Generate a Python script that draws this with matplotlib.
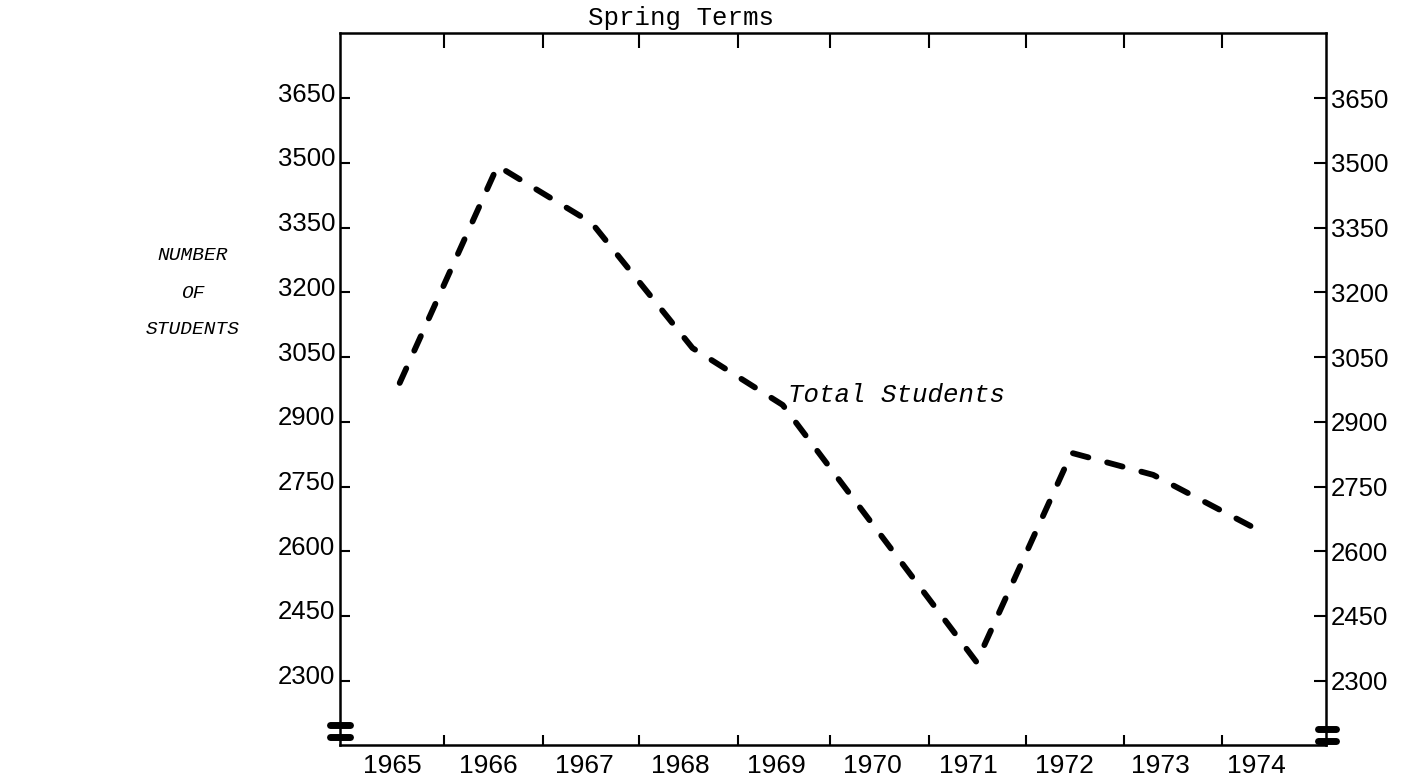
import matplotlib.pyplot as plt
from matplotlib.transforms import ScaledTranslation

# spring term enrolment
# (points sit slightly right of the year labels in the original)
years = [1965.08, 1966.10, 1967.08, 1968.13, 1969.07, 1971.09, 1972.08, 1972.93, 1974.12]
students = [2990, 3493, 3361, 3071, 2939, 2343, 2828, 2777, 2638]

year_labels = list(range(1965, 1975))
# tick marks between the year labels
year_marks = [1965.54, 1966.57, 1967.57, 1968.60, 1969.56,
              1970.59, 1971.60, 1972.63, 1973.65]
student_ticks = [2300, 2450, 2600, 2750, 2900, 3050, 3200, 3350, 3500, 3650]

plt.rcParams['lines.scale_dashes'] = False

fig = plt.figure(figsize=(14.13, 7.81), dpi=100)
ax = fig.add_axes([340 / 1413, 1 - 745 / 781, 986 / 1413, 712 / 781])

ax.plot(years, students, color='black', linewidth=4.2,
        linestyle=(0, (11.5, 14)), dash_capstyle='round')

ax.set_xlim(1964.458, 1974.73)
ax.set_ylim(2151, 3801)

for side in ax.spines.values():
    side.set_linewidth(1.8)

# x axis: marks between years, labels on the years
ax.set_xticks(year_marks)
ax.set_xticklabels([])
ax.set_xticks(year_labels, minor=True)
ax.set_xticklabels([str(y) for y in year_labels], minor=True,
                   fontsize=19, family='Liberation Sans')
ax.tick_params(axis='x', which='major', direction='in', length=7.5, width=1.5,
               top=True, bottom=True)
ax.tick_params(axis='x', which='minor', length=0, pad=6.5)

# y axis on both sides
ax.set_yticks(student_ticks)
ax.set_yticklabels([str(v) for v in student_ticks], fontsize=18.5,
                   family='Liberation Sans')
ax.tick_params(axis='y', direction='in', length=7.5, width=1.5, pad=3.5,
               left=True, right=True, labelleft=True, labelright=True)
shift = ScaledTranslation(0, 6 / 100, fig.dpi_scale_trans)
for t in ax.yaxis.get_major_ticks():
    t.label1.set_transform(t.label1.get_transform() + shift)
    t.tick2line.set_markersize(8.8)
# top marks are a bit longer than the bottom ones
for t in ax.xaxis.get_major_ticks():
    t.tick2line.set_markersize(10.8)

# axis break marks at the bottom corners
for x0, x1, ys in [(-0.010, 0.010, (0.028, 0.011)),
                   (0.992, 1.010, (0.0225, 0.0056))]:
    for yb in ys:
        ax.plot([x0, x1], [yb, yb], transform=ax.transAxes, color='black',
                linewidth=5, solid_capstyle='round', clip_on=False)

ax.text(1969.12, 2946, 'Total Students', fontsize=18.5,
        family='Liberation Mono', style='italic', va='baseline', ha='left')

fig.text(681 / 1413, 1 - 25 / 781, 'Spring Terms', fontsize=18.5,
         family='Liberation Mono', ha='center', va='baseline')

for label, ypix in [('NUMBER', 255), ('OF', 293), ('STUDENTS', 330)]:
    fig.text(193 / 1413, 1 - ypix / 781, label, fontsize=14,
             family='Liberation Mono', style='italic', ha='center', va='center')

fig.savefig('out.png', dpi=100)
